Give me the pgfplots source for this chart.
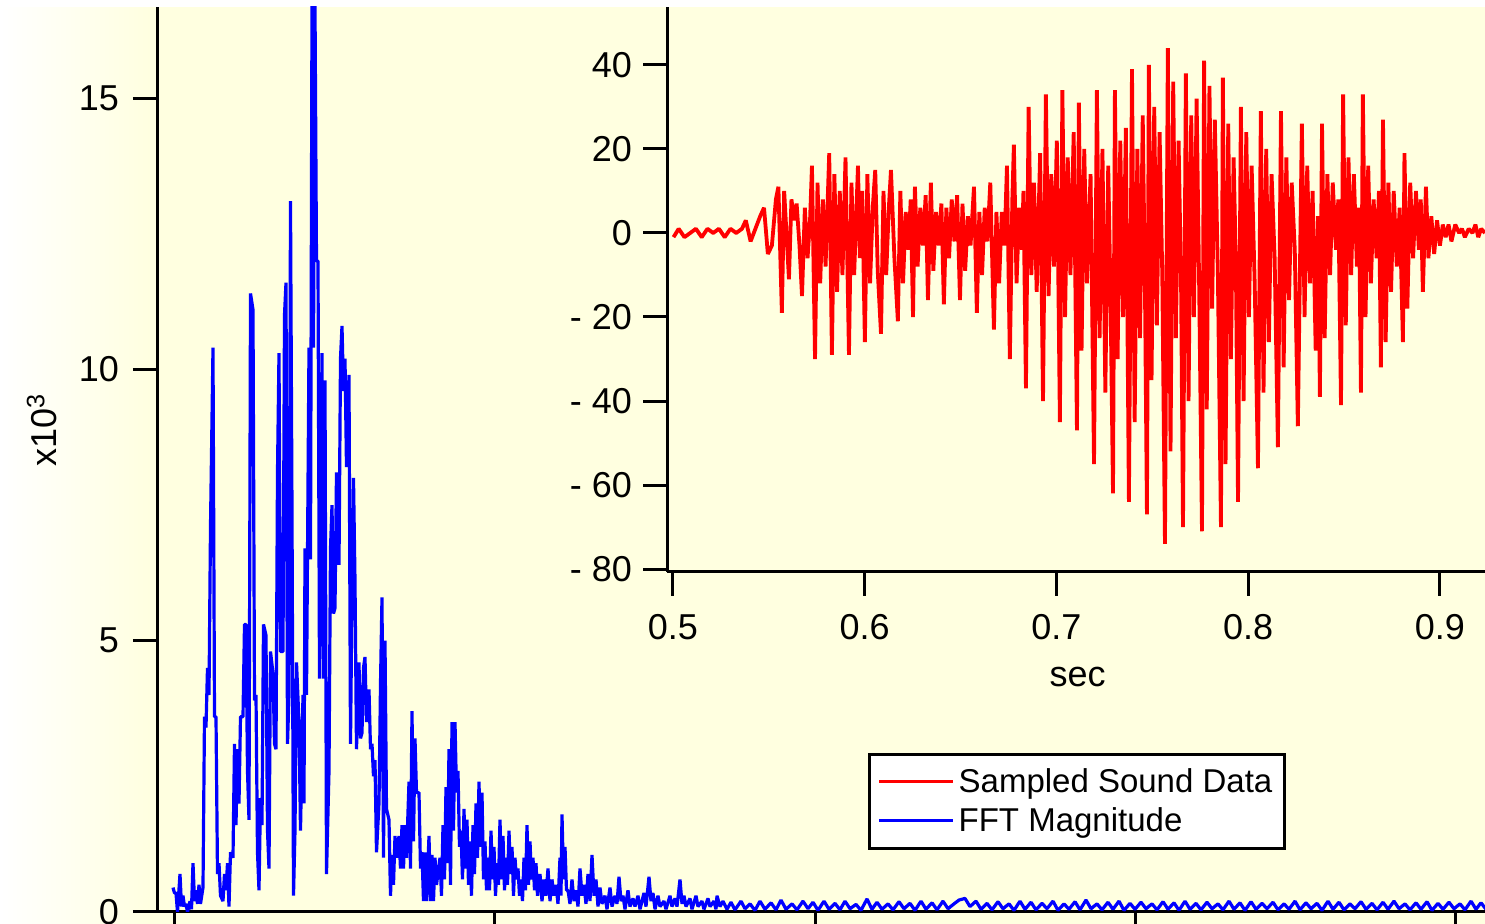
\documentclass[border=0pt]{standalone}
\usepackage{fontspec}
\setmainfont{Liberation Sans}
\usepackage{pgfplots}
\usepackage{pgfplotstable}
\pgfplotsset{compat=1.18}
\definecolor{bg}{HTML}{FFFFE0}

\pgfplotstableread{
t v
0.5003 -1
0.5030 1
0.5060 -1
0.5090 0
0.5120 1
0.5150 -1
0.5180 1
0.5210 0
0.5240 1
0.5270 -1
0.5300 1
0.5330 0
0.5360 1
0.5380 3
0.5405 -2
0.5430 1
0.5455 4
0.5475 6
0.5495 -5
0.5516 -3
0.5537 8
0.5550 11
0.5568 -19
0.5580 10
0.5592 0
0.5605 -11
0.5618 8
0.5632 3
0.5645 7
0.5660 -3
0.5673 -15
0.5688 6
0.5702 -6
0.5715 3
0.5725 16
0.5741 -30
0.5754 12
0.5768 -12
0.5782 8
0.5796 -8
0.5815 19
0.5829 -29
0.5842 14
0.5856 -14
0.5870 10
0.5884 -10
0.5900 18
0.5918 -29
0.5931 12
0.5945 -10
0.5965 16
0.5975 -6
0.5987 10
0.6001 -26
0.6014 14
0.6028 -12
0.6042 6
0.6055 15
0.6068 -9
0.6085 -24
0.6098 10
0.6112 -10
0.6126 6
0.6137 15
0.6155 -6
0.6173 -21
0.6186 10
0.6200 -12
0.6214 5
0.6228 -4
0.6240 8
0.6252 -20
0.6262 11
0.6276 -8
0.6290 6
0.6304 -3
0.6318 9
0.6330 -16
0.6345 12
0.6358 -9
0.6372 5
0.6386 -3
0.6400 7
0.6413 -17
0.6426 6
0.6440 -6
0.6454 8
0.6468 -2
0.6482 9
0.6497 -16
0.6510 7
0.6524 -9
0.6538 4
0.6552 -3
0.6570 11
0.6585 -19
0.6598 5
0.6612 -10
0.6626 6
0.6640 -2
0.6655 12
0.6674 -23
0.6687 5
0.6701 -12
0.6715 5
0.6729 -3
0.6742 16
0.6757 -30
0.6770 8
0.6778 21
0.6792 -12
0.6806 6
0.6820 -4
0.6828 10
0.6841 -37
0.6855 30
0.6869 -10
0.6883 12
0.6897 -14
0.6915 19
0.6930 -40
0.6945 33
0.6959 -15
0.6973 14
0.6987 -8
0.7002 22
0.7018 -45
0.7031 34
0.7045 -20
0.7059 18
0.7073 -10
0.7090 24
0.7107 -47
0.7117 31
0.7131 -28
0.7145 20
0.7159 -12
0.7178 14
0.7196 -55
0.7211 34
0.7225 -25
0.7240 20
0.7255 -38
0.7270 16
0.7282 -15
0.7295 -62
0.7305 34
0.7319 -30
0.7333 22
0.7347 -20
0.7362 25
0.7378 -64
0.7394 39
0.7408 -45
0.7422 20
0.7436 -25
0.7450 28
0.7462 -15
0.7472 -67
0.7482 40
0.7496 -35
0.7510 30
0.7524 -22
0.7538 24
0.7552 -10
0.7566 -74
0.7581 44
0.7595 -52
0.7609 36
0.7623 -25
0.7637 22
0.7650 -12
0.7660 -70
0.7675 38
0.7689 -40
0.7703 28
0.7717 -20
0.7731 32
0.7745 -15
0.7759 -71
0.7770 41
0.7784 -42
0.7798 35
0.7812 -18
0.7826 27
0.7842 -10
0.7858 -70
0.7868 37
0.7882 -55
0.7896 26
0.7910 -30
0.7924 18
0.7936 -8
0.7947 -64
0.7962 30
0.7976 -40
0.7990 24
0.8004 -20
0.8018 16
0.8034 -12
0.8051 -56
0.8066 29
0.8080 -38
0.8094 20
0.8108 -26
0.8122 14
0.8138 -6
0.8155 -51
0.8171 29
0.8185 -32
0.8199 18
0.8213 -16
0.8227 12
0.8243 -4
0.8259 -46
0.8280 26
0.8294 -20
0.8308 16
0.8322 -12
0.8336 10
0.8352 -28
0.8364 4
0.8374 -39
0.8385 26
0.8399 -25
0.8413 14
0.8427 -10
0.8441 12
0.8458 -4
0.8470 8
0.8484 -41
0.8495 33
0.8509 -22
0.8523 18
0.8537 -10
0.8551 14
0.8567 -8
0.8578 6
0.8588 -38
0.8598 33
0.8612 -20
0.8626 16
0.8640 -12
0.8654 8
0.8670 -6
0.8682 10
0.8692 -32
0.8703 27
0.8717 -26
0.8731 12
0.8745 -14
0.8759 10
0.8775 -8
0.8790 6
0.8807 -26
0.8815 19
0.8830 -18
0.8845 12
0.8860 -6
0.8875 10
0.8890 -4
0.8900 8
0.8911 -14
0.8927 11
0.8940 -6
0.8955 4
0.8970 -5
0.8985 3
0.9000 -3
0.9015 2
0.9030 -1
0.9045 2
0.9060 -2
0.9080 2
0.9100 0
0.9115 1
0.9130 -1
0.9150 1
0.9170 0
0.9185 2
0.9200 -1
0.9215 1
0.9235 0
}\sounddata

\pgfplotstableread{
f m
-2 0.45
-0.5 0.35
1 0.35
2.5 0.0
5 0.7
6.5 0.1
8 0.3
9.5 0.1
11 0.15
12.5 0.0
15 0.2
16.5 0.05
18 0.9
19.5 0.2
21 0.4
22.5 0.15
24 0.5
25.5 0.15
28 0.45
29.5 3.6
31 3.4
32.5 4.5
34 4.0
35.5 7.1
38 10.4
39.5 3.6
41 3.6
42.5 0.7
44 0.9
45.5 0.3
48 0.2
49.5 0.7
51 0.4
52.5 0.9
54 0.1
55.5 1.1
58 1.0
59.5 3.1
61 1.6
62.5 3.0
64 2.0
65.5 3.6
68 3.6
69.5 5.3
71 5.3
72.5 2.6
74 1.7
75.5 11.4
78 11.1
79.5 3.9
81 4.0
82.5 1.1
84 0.4
85.5 2.1
87 1.6
88.5 5.3
91 5.1
92.5 1.5
94 0.8
95.5 4.8
98 4.4
99.5 3.1
101 3.0
102.5 8.1
104 10.3
105.5 4.8
108 4.8
109.5 11.0
111 11.6
112.5 3.1
114 4.0
115.5 13.1
117 7.4
118.5 0.3
120 1.5
121.5 4.6
124 3.5
125.5 1.5
128 4.0
129 2.0
130 6.7
131.5 4.0
134 10.4
135.5 6.5
137 16.7
138.5 10.4
140 16.7
141.5 12.0
143 12.0
144.5 4.3
147 10.3
148.5 4.3
150 9.8
151.5 0.7
154 2.6
155.5 6.7
157 7.5
158.5 5.5
160 5.6
161.5 8.1
164 6.4
165.5 10.2
167 10.8
168.5 9.6
170 10.2
171.5 8.2
174 9.9
175.5 3.1
177 5.9
178.5 8.0
180 6.1
181.5 3.0
184 4.6
185.5 3.2
187 3.3
188.5 4.5
190 4.7
191.5 3.5
194 4.1
195.5 3.0
197 3.1
198.5 2.5
200 2.8
201.5 1.1
204 2.0
205.5 4.2
207 5.8
208.5 1.0
210 5.0
211.5 1.9
214 1.7
215.5 0.3
217 1.05
218.5 0.5
220 1.4
221.5 1.0
224 1.4
225.5 0.8
227 1.6
228.5 0.8
230 1.6
231.5 1.0
234 2.4
235.5 0.8
237 3.7
238.5 1.3
240 3.2
241.5 2.2
244 2.2
245.5 0.8
247 1.1
248.5 0.2
250 1.1
251.5 0.2
254 1.4
255.5 0.2
257 1.05
258.5 0.2
260 1.0
261.5 0.5
265 1.0
266.5 0.3
268 1.6
269.5 0.6
271 2.3
272.5 0.9
274 3.0
275.5 0.5
277 3.5
278.5 1.5
280 3.5
281.5 2.2
283 2.6
284.5 1.2
286 1.5
287.5 0.6
289 1.9
290.5 0.8
292 1.7
293.5 0.5
295 1.3
296.5 0.3
298 1.6
299.5 0.7
301 2.0
302.5 1.0
304 2.4
305.5 1.2
307 2.2
308.5 0.6
310 1.3
311.5 0.4
313 1.0
314.5 0.4
316 1.5
317.5 0.6
319 1.2
320.5 0.3
322 0.9
323.5 0.5
325 1.7
326.5 0.6
328 1.4
329.5 0.4
331 1.0
332.5 0.5
334 1.5
335.5 0.7
337 1.2
338.5 0.3
340 1.0
341.5 0.6
343 0.8
344.5 0.3
346 0.6
347.5 0.2
349 1.0
350.5 0.4
352 1.6
353.5 0.5
355 1.3
356.5 0.6
358 1.0
359.5 0.4
361 0.9
362.5 0.3
365 0.7
367 0.2
369 0.6
371 0.3
373 0.8
375 0.2
377 0.6
379 0.3
381 0.5
383 0.15
385 1.0
386 0.3
387 1.8
388.5 0.6
390 1.2
391.5 0.4
393 0.4
395 0.15
397 0.6
399 0.2
401 0.4
403 0.1
405 0.8
407 0.3
409 0.5
411 0.15
413 0.7
415 0.2
417 1.05
419 0.3
421 0.6
423 0.1
425 0.45
427 0.15
430 0.3
432 0.05
435 0.45
437 0.1
440 0.3
442 0.15
444 0.65
446 0.2
448 0.3
450 0.05
453 0.4
455 0.1
458 0.25
460 0.1
463 0.3
465 0.05
469 0.35
471 0.1
474 0.65
476 0.2
478 0.35
480 0.05
483 0.3
485 0.1
489 0.2
491 0.05
495 0.3
497 0.1
500 0.25
502 0.1
505 0.6
507 0.15
509 0.3
511 0.1
515 0.25
517 0.05
521 0.3
523 0.1
527 0.2
529 0.05
533 0.25
535 0.1
539 0.2
541 0.05
542 0.3
545 0.1
548 0.2
552 0.05
556 0.18
560 0.04
566 0.2
570 0.06
575 0.15
580 0.03
585 0.2
590 0.05
596 0.17
601 0.04
606 0.22
611 0.05
617 0.15
622 0.04
628 0.2
633 0.06
638 0.18
643 0.03
649 0.2
654 0.05
660 0.16
665 0.04
670 0.2
675 0.06
681 0.14
686 0.03
692 0.24
697 0.05
702 0.18
707 0.05
713 0.15
718 0.04
724 0.19
729 0.06
735 0.16
740 0.03
746 0.2
751 0.05
757 0.17
762 0.04
768 0.2
773 0.06
779 0.15
784 0.22
790 0.25
795 0.1
801 0.2
806 0.05
812 0.16
817 0.04
823 0.19
828 0.06
834 0.15
839 0.03
845 0.2
850 0.05
856 0.18
861 0.04
867 0.16
872 0.06
878 0.2
883 0.03
889 0.15
894 0.05
900 0.19
905 0.04
911 0.22
916 0.06
922 0.15
927 0.04
933 0.18
938 0.05
944 0.2
949 0.03
955 0.16
960 0.05
966 0.18
971 0.06
977 0.15
982 0.04
988 0.19
993 0.05
999 0.17
1004 0.03
1010 0.2
1015 0.05
1021 0.16
1026 0.04
1032 0.18
1037 0.06
1043 0.15
1048 0.04
1054 0.2
1059 0.05
1065 0.17
1070 0.03
1076 0.19
1081 0.05
1087 0.16
1092 0.06
1098 0.18
1103 0.04
1109 0.15
1114 0.05
1120 0.2
1125 0.04
1131 0.17
1136 0.06
1142 0.16
1147 0.03
1153 0.2
1158 0.05
1164 0.18
1169 0.04
1175 0.15
1180 0.06
1186 0.19
1191 0.05
1197 0.16
1202 0.04
1208 0.18
1213 0.05
1219 0.2
1224 0.06
1230 0.15
1235 0.04
1241 0.17
1246 0.05
1252 0.19
1257 0.03
1263 0.16
1268 0.05
1274 0.18
1279 0.06
1285 0.15
1290 0.04
1296 0.2
1301 0.05
1306 0.17
1311 0.05
}\fftdata

\begin{document}
\begin{tikzpicture}
\path[use as bounding box] (-79pt,-6pt) rectangle (663.5pt,456pt);
\fill[bg] (-79pt,-6pt) rectangle (663.5pt,452.5pt);
\shade[left color=white,right color=bg] (-79pt,-6pt) rectangle (-4pt,452.5pt);
\fill[white] (-79pt,452.5pt) rectangle (663.5pt,456.5pt);

\begin{axis}[
  at={(0pt,0pt)}, anchor=south west,
  scale only axis, width=663.5pt, height=452.5pt,
  xmin=-17, xmax=1310, ymin=0, ymax=16.68,
  axis x line*=bottom, axis y line*=left,
  axis line style={line width=1.5pt, black},
  xtick={0,320,640,960,1280}, xticklabels={},
  ytick={0,5,10,15}, yticklabels={0,5,10,15},
  tick align=outside, major tick length=12.5pt,
  tick style={line width=1.5pt, black},
  ticklabel style={font=\fontsize{18}{20}\selectfont},
  yticklabel style={xshift=-3.5pt},
  ylabel={x10\textsuperscript{3}},
  ylabel style={font=\fontsize{18}{20}\selectfont, at={(axis description cs:-0.0874,0.533)}, anchor=center},
  legend style={at={(axis description cs:0.535,0.1757)}, anchor=north west,
    draw=black, line width=1.5pt, fill=white,
    font=\fontsize{16.5}{19}\selectfont, inner xsep=4pt, inner ysep=5pt,
    row sep=2pt, legend cell align=left},
  legend image code/.code={\path (0pt,0pt) -- (37pt,0pt);\draw[#1, line width=1.5pt] (2pt,0pt) -- (31pt,0pt);},
]
\addlegendimage{red}
\addlegendentry{Sampled Sound Data}
\addplot[blue, line width=1.6pt, line join=bevel] table[x=f, y=m] {\fftdata};
\addlegendentry{FFT Magnitude}
\end{axis}

\begin{axis}[
  at={(254.5pt,170pt)}, anchor=south west,
  scale only axis, width=409pt, height=282.5pt,
  xmin=0.4969, xmax=0.9235, ymin=-80.7, ymax=53.8,
  axis x line*=bottom, axis y line*=left,
  axis line style={line width=1.5pt, black},
  xtick={0.5,0.6,0.7,0.8,0.9}, xticklabels={0.5,0.6,0.7,0.8,0.9},
  ytick={-80,-60,-40,-20,0,20,40}, yticklabels={- 80,- 60,- 40,- 20,0,20,40},
  tick align=outside, major tick length=12pt,
  tick style={line width=1.5pt, black},
  ticklabel style={font=\fontsize{18}{20}\selectfont},
  xticklabel style={yshift=-5.5pt},
  yticklabel style={xshift=-2pt},
  xlabel={sec},
  xlabel style={font=\fontsize{18}{20}\selectfont, at={(axis description cs:0.502,-0.186)}, anchor=center},
]
\addplot[red, line width=1.9pt, line join=bevel] table[x=t, y=v] {\sounddata};
\end{axis}
\end{tikzpicture}
\end{document}
